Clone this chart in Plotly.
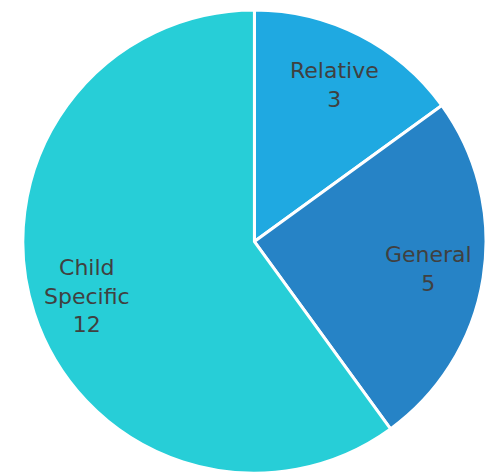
import math
import plotly.graph_objects as go

categories = ["Relative", "General", "Child Specific"]
counts = [3, 5, 12]
colors = ["#1FA9E1", "#2683C6", "#27CED7"]

W, H = 486, 476
dom_x = [0.047, 1.0]
dom_y = [0.004, 0.981]
label_frac = 0.76  # labels sit at this fraction of the radius along each slice's mid-angle

fig = go.Figure(
    go.Pie(
        labels=categories,
        values=counts,
        textinfo="none",
        sort=False,
        direction="clockwise",
        rotation=0,
        marker=dict(colors=colors, line=dict(color="white", width=3)),
        hoverinfo="label+value",
        domain=dict(x=dom_x, y=dom_y),
    )
)

# place "name / value" labels along the middle angle of each slice
cx = (dom_x[0] + dom_x[1]) / 2 * W
cy = (dom_y[0] + dom_y[1]) / 2 * H
radius = min((dom_x[1] - dom_x[0]) * W, (dom_y[1] - dom_y[0]) * H) / 2
total = sum(counts)
start = 0.0
for name, v in zip(categories, counts):
    mid = (start + v / 2) / total * 2 * math.pi
    start += v
    px = cx + label_frac * radius * math.sin(mid)
    py = cy + label_frac * radius * math.cos(mid)
    fig.add_annotation(
        x=px / W, y=py / H, xref="paper", yref="paper",
        xanchor="center", yanchor="middle",
        text=name.replace(" ", "<br>") + "<br>" + str(v),
        showarrow=False, align="center",
        font=dict(family="DejaVu Sans, sans-serif", size=22, color="#404040"),
    )

fig.update_layout(
    width=W,
    height=H,
    margin=dict(l=0, r=0, t=0, b=0),
    paper_bgcolor="white",
    plot_bgcolor="white",
    showlegend=False,
)

fig.write_html("out.html")
